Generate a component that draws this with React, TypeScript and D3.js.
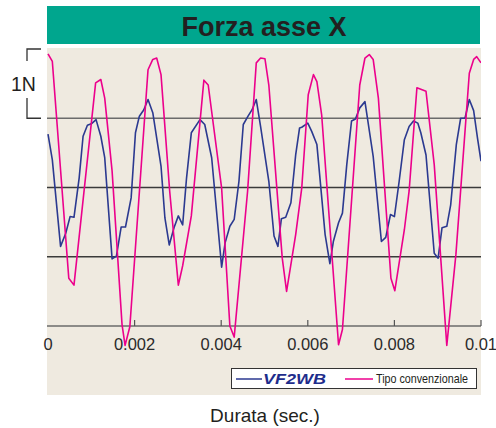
import React, { useEffect, useRef } from 'react';
import * as d3 from 'd3';

// Forza asse X: time in ms, force in N (0 = bottom axis line)
const blueTimeMs = [
  0, 0.1, 0.29, 0.41, 0.51, 0.6, 0.72, 0.81, 0.91, 1.0, 1.11, 1.22, 1.31, 1.48, 1.58, 1.69, 1.79, 1.92,
  2.02, 2.11, 2.21, 2.31, 2.42, 2.61, 2.7, 2.8, 2.91, 3.01, 3.11, 3.2, 3.31, 3.51, 3.62, 3.78,
  4.01, 4.09, 4.2, 4.3, 4.41, 4.51, 4.62, 4.71, 4.81, 4.91, 5.1, 5.22, 5.31, 5.39, 5.49, 5.61, 5.72, 5.81,
  5.86, 6.0, 6.09, 6.21, 6.4, 6.51, 6.59, 6.71, 6.8, 6.9, 7.01, 7.1, 7.2, 7.32, 7.51, 7.7, 7.8, 7.91,
  8.0, 8.11, 8.23, 8.34, 8.44, 8.54, 8.61, 8.73, 8.92, 9.01, 9.1, 9.21, 9.3, 9.43, 9.53, 9.63, 9.73,
  9.83, 9.92, 10.0,
];
const blueForce = [
  2.77, 2.4, 1.15, 1.34, 1.58, 1.57, 2.14, 2.74, 2.9, 2.92, 2.98, 2.74, 2.43, 0.97, 1.01, 1.43, 1.43, 1.85,
  2.79, 3.03, 3.12, 3.27, 3.08, 2.31, 1.56, 1.17, 1.42, 1.59, 1.46, 2.14, 2.79, 2.98, 2.91, 2.43,
  0.85, 1.2, 1.44, 1.54, 2.09, 2.91, 3.03, 3.12, 3.27, 2.88, 2.09, 1.3, 1.15, 1.55, 1.57, 1.78, 2.47, 2.86,
  2.87, 2.93, 2.81, 2.62, 1.32, 0.9, 1.22, 1.49, 1.63, 2.33, 2.96, 2.99, 3.15, 3.24, 2.45, 1.22, 1.28, 1.61,
  1.58, 2.09, 2.69, 2.88, 2.96, 2.93, 2.79, 2.47, 1.05, 0.98, 1.42, 1.44, 1.75, 2.62, 3.0, 3.0, 3.27,
  3.11, 2.71, 2.38,
];

const pinkTimeMs = [
  0, 0.1, 0.48, 0.6, 1.1, 1.22, 1.31, 1.48, 1.71, 1.78, 1.89, 2.31, 2.42, 2.51, 2.61, 2.81, 3.01, 3.11,
  3.31, 3.6, 3.7, 4.01, 4.2, 4.3, 4.61, 4.81, 4.91, 5.01, 5.1, 5.41, 5.51, 5.72, 5.86, 6.01, 6.13, 6.21,
  6.32, 6.71, 6.8, 7.2, 7.32, 7.42, 7.51, 7.63, 7.92, 8.01, 8.23, 8.34, 8.52, 8.73, 8.92, 9.21, 9.42,
  9.73, 9.83, 9.9, 10.0,
];
const pinkForce = [
  3.93, 3.82, 0.69, 0.59, 3.51, 3.56, 3.29, 2.24, 0.02, -0.28, -0.01, 3.7, 3.85, 3.87, 3.63, 1.95, 0.59, 0.87,
  1.59, 3.55, 3.48, 1.99, 0.0, -0.16, 1.95, 3.8, 3.87, 3.86, 3.48, 0.98, 0.5, 1.32, 1.99, 3.34, 3.63, 3.53,
  3.05, -0.27, -0.05, 3.48, 3.87, 3.92, 3.85, 3.29, 0.69, 0.51, 1.39, 1.95, 3.44, 3.39, 2.33, -0.28, 1.03,
  3.65, 3.85, 3.89, 3.8,
];

const xTicks = [0, 0.002, 0.004, 0.006, 0.008, 0.01];
const xTickLabels = ['0', '0.002', '0.004', '0.006', '0.008', '0.01'];
const gridLevels = [1, 2, 3];

const BLUE = '#2b3990';
const PINK = '#ec008c';
const FONT = '"Liberation Sans", Arial, Helvetica, sans-serif';

export default function App() {
  const svgRef = useRef<SVGSVGElement>(null);

  useEffect(() => {
    const svg = d3.select(svgRef.current);
    svg.selectAll('*').remove();

    const width = 496;
    const height = 428;
    const plot = { left: 47, right: 481, top: 48, bottom: 395 };

    const x = d3.scaleLinear().domain([0, 0.01]).range([48, 481]);
    const y = d3.scaleLinear().domain([0, 4]).range([326, 49]);

    svg.attr('width', width).attr('height', height);
    svg.append('rect').attr('width', width).attr('height', height).attr('fill', '#ffffff');

    // title bar
    svg.append('rect')
      .attr('x', 47).attr('y', 6)
      .attr('width', 433).attr('height', 38)
      .attr('fill', '#00a68e');
    svg.append('text')
      .attr('x', 264).attr('y', 36)
      .attr('text-anchor', 'middle')
      .attr('font-family', FONT)
      .attr('font-weight', 'bold')
      .attr('font-size', 27)
      .attr('fill', '#231f20')
      .text('Forza asse X');

    // plot background
    svg.append('rect')
      .attr('x', plot.left).attr('y', plot.top)
      .attr('width', plot.right - plot.left).attr('height', plot.bottom - plot.top)
      .attr('fill', '#efeae0');

    // grid lines
    svg.append('g')
      .selectAll('line')
      .data(gridLevels)
      .enter()
      .append('line')
      .attr('x1', plot.left).attr('x2', plot.right)
      .attr('y1', d => y(d)).attr('y2', d => y(d))
      .attr('stroke', d => (d === 3 ? '#6b6b6b' : '#3a3a3a'))
      .attr('stroke-width', 1.3);

    // x axis line + inward ticks
    svg.append('line')
      .attr('x1', plot.left).attr('x2', plot.right)
      .attr('y1', y(0)).attr('y2', y(0))
      .attr('stroke', '#6b6b6b').attr('stroke-width', 1.5);
    svg.append('g')
      .selectAll('line')
      .data(xTicks.slice(1))
      .enter()
      .append('line')
      .attr('x1', d => x(d)).attr('x2', d => x(d))
      .attr('y1', y(0)).attr('y2', y(0) - 6)
      .attr('stroke', '#555').attr('stroke-width', 1.2);

    svg.append('g')
      .selectAll('text')
      .data(xTicks)
      .enter()
      .append('text')
      .attr('x', d => x(d))
      .attr('y', 350)
      .attr('text-anchor', 'middle')
      .attr('font-family', FONT)
      .attr('font-size', 16.5)
      .attr('fill', '#2b2b2b')
      .text((d, i) => xTickLabels[i]);

    // lines
    const clip = svg.append('clipPath').attr('id', 'plot-clip');
    clip.append('rect')
      .attr('x', plot.left).attr('y', plot.top)
      .attr('width', plot.right - plot.left).attr('height', plot.bottom - plot.top);

    const line = d3.line<[number, number]>()
      .x(d => x(d[0] / 1000))
      .y(d => y(d[1]));

    const blueData = blueTimeMs.map((t, i) => [t, blueForce[i]] as [number, number]);
    const pinkData = pinkTimeMs.map((t, i) => [t, pinkForce[i]] as [number, number]);

    const lines = svg.append('g').attr('clip-path', 'url(#plot-clip)');
    lines.append('path')
      .datum(blueData)
      .attr('fill', 'none')
      .attr('stroke', BLUE)
      .attr('stroke-width', 1.6)
      .attr('stroke-linejoin', 'round')
      .attr('d', line);
    lines.append('path')
      .datum(pinkData)
      .attr('fill', 'none')
      .attr('stroke', PINK)
      .attr('stroke-width', 1.6)
      .attr('stroke-linejoin', 'round')
      .attr('d', line);

    // 1N scale bracket
    const br = svg.append('g').attr('stroke', '#333').attr('stroke-width', 1.3).attr('fill', 'none');
    br.append('path').attr('d', `M41,${y(4)} H27 V61`);
    br.append('path').attr('d', `M27,98 V${y(3)} H41`);
    svg.append('text')
      .attr('x', 11).attr('y', 91)
      .attr('font-family', FONT)
      .attr('font-size', 19.5)
      .attr('fill', '#231f20')
      .text('1N');

    // legend
    const lg = svg.append('g');
    lg.append('rect')
      .attr('x', 231.5).attr('y', 368.5)
      .attr('width', 245).attr('height', 20)
      .attr('fill', '#ffffff')
      .attr('stroke', '#333').attr('stroke-width', 1);
    lg.append('line')
      .attr('x1', 236).attr('x2', 262).attr('y1', 379).attr('y2', 379)
      .attr('stroke', BLUE).attr('stroke-width', 1.5);
    lg.append('text')
      .attr('x', 263).attr('y', 383.5)
      .attr('font-family', FONT)
      .attr('font-weight', 'bold')
      .attr('font-style', 'italic')
      .attr('font-size', 14)
      .attr('textLength', 63)
      .attr('lengthAdjust', 'spacingAndGlyphs')
      .attr('fill', '#1e2d8c')
      .text('VF2WB');
    lg.append('line')
      .attr('x1', 345).attr('x2', 373).attr('y1', 379).attr('y2', 379)
      .attr('stroke', PINK).attr('stroke-width', 1.5);
    lg.append('text')
      .attr('x', 376).attr('y', 383)
      .attr('font-family', '"Liberation Sans Narrow", "Arial Narrow", ' + FONT)
      .attr('font-size', 13)
      .attr('textLength', 92)
      .attr('lengthAdjust', 'spacingAndGlyphs')
      .attr('fill', '#231f20')
      .text('Tipo convenzionale');

    // x axis title
    svg.append('text')
      .attr('x', 265).attr('y', 422)
      .attr('text-anchor', 'middle')
      .attr('font-family', FONT)
      .attr('font-size', 19)
      .attr('fill', '#231f20')
      .text('Durata (sec.)');
  }, []);

  return (
    <div style={{ position: 'fixed', left: 0, top: 0, width: 496, height: 428, overflow: 'hidden' }}>
      <svg ref={svgRef} style={{ display: 'block' }}></svg>
    </div>
  );
}
